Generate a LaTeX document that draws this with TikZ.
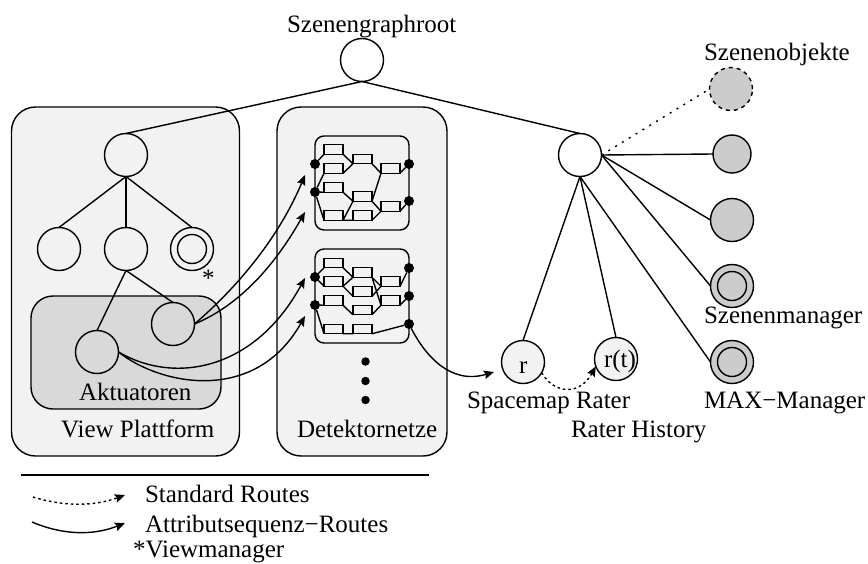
\documentclass[tikz,border=0pt]{standalone}
\usepackage{fontspec}
\setmainfont{Liberation Serif}
\usetikzlibrary{arrows.meta}
\definecolor{panelgrey}{HTML}{F2F2F2}
\definecolor{actgrey}{HTML}{D9D9D9}
\definecolor{objgrey}{HTML}{CCCCCC}
\begin{document}
\begin{tikzpicture}[x=1pt, y=-1pt, line width=1.4pt,
    every node/.style = {inner sep=0pt, outer sep=0pt, font=\fontsize{25}{28}\selectfont},
    lbl/.style = {anchor=base west},
    panel/.style = {draw, fill=panelgrey, rounded corners=24pt},
    actpanel/.style = {draw, fill=actgrey, rounded corners=22pt},
    netbox/.style = {draw, rounded corners=9pt, minimum width=94pt, minimum height=94pt},
    cell/.style = {draw, line width=1.1pt, fill=panelgrey, minimum width=19pt, minimum height=9.5pt},
    dot/.style = {circle, fill=black, minimum size=10pt},
    knot/.style = {circle, draw, minimum size=43pt},
    inner/.style = {circle, draw, minimum size=29pt},
    obj/.style = {knot, fill=objgrey},
    rater/.style = {knot, fill=panelgrey},
    route/.style = {-{Stealth[length=10pt,width=8.5pt,inset=1.5pt]}},
    stdroute/.style = {route, dash pattern=on 2.5pt off 3pt}]
  \useasboundingbox (0,0) rectangle (868,563);

  \node[panel, minimum width=228pt, minimum height=349pt] (viewpanel) at (125.5,281.5) {};
  \node[panel, minimum width=170pt, minimum height=349pt] (detpanel) at (362,281.5) {};
  \node[actpanel, minimum width=190pt, minimum height=113pt] (actpanel) at (126,352.5) {};

  \node[knot] (root) at (362,60) {};
  \node[knot] (view) at (126,155) {};
  \node[knot] (viewa) at (59,249) {};
  \node[knot] (viewb) at (126,249) {};
  \node[knot] (viewc) at (192,249) {};
  \node[inner] (viewci) at (192,249) {};
  \node[knot] (acta) at (173,324) {};
  \node[knot] (actb) at (97,352) {};
  \node[knot] (hub) at (580,155) {};
  \node[rater] (spacerater) at (523,362) {};
  \node[rater] (raterhist) at (616,359) {};
  \node[obj, draw=none] (obja) at (731,89) {};
  \draw[dash pattern=on 4pt off 4pt] (731,89) circle (21.5pt);
  \node[obj, minimum size=38pt] (objb) at (732,154) {};
  \node[obj] (objc) at (732,220) {};
  \node[obj] (objd) at (732,286) {};
  \node[inner] (objdi) at (732,286) {};
  \node[obj] (obje) at (732,362) {};
  \node[inner] (objei) at (732,362) {};

  \node[netbox] (neta) at (362,183) {};
  \node[cell] (aa) at (333.5,149.5) {};
  \node[cell] (ab) at (333.5,168.5) {};
  \node[cell] (ac) at (333.5,187.5) {};
  \node[cell] (ad) at (333.5,215.5) {};
  \node[cell] (ae) at (362.5,159) {};
  \node[cell] (af) at (362.5,196.5) {};
  \node[cell] (ag) at (362.5,215.5) {};
  \node[cell] (ah) at (390.5,168.5) {};
  \node[cell] (ai) at (390.5,206.5) {};
  \node[dot] (al1) at (315,164) {};
  \node[dot] (al2) at (315,192) {};
  \node[dot] (ar1) at (409,164) {};
  \node[dot] (ar2) at (409,201) {};

  \node[netbox] (netb) at (362,296) {};
  \node[cell] (ba) at (333.5,263) {};
  \node[cell] (bb) at (333.5,281.5) {};
  \node[cell] (bc) at (333.5,300.5) {};
  \node[cell] (bd) at (333.5,329) {};
  \node[cell] (be) at (362.5,272.5) {};
  \node[cell] (bf) at (362.5,291.5) {};
  \node[cell] (bg) at (362.5,310) {};
  \node[cell] (bh) at (362.5,329) {};
  \node[cell] (bi) at (390.5,281.5) {};
  \node[cell] (bj) at (390.5,300.5) {};
  \node[dot] (bl1) at (315,277) {};
  \node[dot] (bl2) at (315,305) {};
  \node[dot] (br1) at (409,268) {};
  \node[dot] (br2) at (409,296) {};
  \node[dot] (br3) at (409,324) {};

  \node[dot, minimum size=8.5pt] (morea) at (365.5,361.5) {};
  \node[dot, minimum size=8.5pt] (moreb) at (365.5,381) {};
  \node[dot, minimum size=8.5pt] (morec) at (365.5,400) {};

  \draw (root.south) -- (view.north);
  \draw (root.south) -- (hub.north);
  \draw (view.south) -- (viewa.north);
  \draw (view.south) -- (viewb.north);
  \draw (view.south) -- (viewc.north);
  \draw (viewb.south) -- (acta.north);
  \draw (viewb.south) -- (actb.north);
  \draw (hub.south) -- (spacerater.north);
  \draw (hub.south) -- (raterhist.north);
  \draw (hub.south) -- (obje.west);
  \draw (hub.east) -- (objb.west);
  \draw (hub.east) -- (objc.west);
  \draw (hub.east) -- (objd.west);
  \draw[dash pattern=on 2pt off 6pt] (hub.east) -- (obja.west);

  \draw (al1) -- (aa.south west) (aa.south east) -- (ae.south west)
    (ab.south east) -- (ae.south west) (ae.south east) -- (ah.south west)
    (ah.south east) -- (ar1);
  \draw (al2) -- (ab.south west) (al2) -- (ac.south west) (al2) -- (ad.south west)
    (ac.south east) -- (af.south west) (ad.south east) -- (af.south west)
    (ad.south east) -- (ag.south west) (af.south east) -- (ah.south west)
    (af.south east) -- (ai.south west) (ag.south east) -- (ai.south west)
    (ai.south east) -- (ar2);

  \draw (bl1) -- (ba.south west) (bl1) -- (bb.south west) (ba.south east) -- (be.south west)
    (bb.south east) -- (be.south west) (bb.south east) -- (bf.south west)
    (be.south east) -- (bi.south west) (be.south east) -- (bj.south west)
    (bf.south east) -- (bi.south west) (bi.south east) -- (br1) (bj.south east) -- (br2);
  \draw (bl2) -- (bc.south west) (bl2) -- (bd.south west) (bc.south east) -- (bg.south west)
    (bg.south east) -- (bj.south west) (bd.south east) -- (bh.south west)
    (bh.south east) -- (br3);

  \coordinate (tipa) at (305,175);
  \coordinate (tipb) at (305,212);
  \coordinate (tipc) at (305,278);
  \coordinate (tipd) at (305,316);
  \coordinate (tipe) at (494,372);
  \draw[route] (acta.east) .. controls (240,285) and (280,235) .. (tipa);
  \draw[route] (acta.east) .. controls (240,305) and (275,265) .. (tipb);
  \draw[route] (actb.east) .. controls (175,385) and (255,370) .. (tipc);
  \draw[route] (actb.east) .. controls (160,385) and (255,405) .. (tipd);
  \draw[route] (br3) .. controls (425,355) and (450,385) .. (tipe);
  \draw[stdroute] (spacerater.-30) .. controls (555,395) and (580,395) .. (raterhist.200);

  \node[lbl] (rootlabel) at (287,32) {Szenengraphroot};
  \node[lbl] (objlabel) at (704,60) {Szenenobjekte};
  \node[lbl] (mgrlabel) at (704,323) {Szenenmanager};
  \node[lbl] (maxlabel) at (704,408) {MAX−Manager};
  \node[lbl] (raterlabel) at (467,408) {Spacemap Rater};
  \node[lbl] (histlabel) at (571,437) {Rater History};
  \node[lbl] (rtext) at (519,373) {r};
  \node[lbl] (rttext) at (604,367) {r(t)};
  \node[lbl] (actlabel) at (79,400) {Aktuatoren};
  \node[lbl] (viewlabel) at (61,437) {View Plattform};
  \node[lbl] (detlabel) at (297,437) {Detektornetze};
  \node[lbl] (starlabel) at (202,286) {*};

  \coordinate (rulea) at (21,475);
  \coordinate (ruleb) at (429,475);
  \draw (rulea) -- (ruleb);
  \coordinate (stda) at (33,497);
  \coordinate (stdb) at (125,495);
  \coordinate (attra) at (32,522);
  \coordinate (attrb) at (125,523);
  \draw[stdroute] (stda) .. controls (65,507) and (95,506) .. (stdb);
  \draw[route] (attra) .. controls (65,536) and (95,535) .. (attrb);
  \node[lbl] (stdlabel) at (145,502) {Standard Routes};
  \node[lbl] (attrlabel) at (145,532) {Attributsequenz−Routes};
  \node[lbl] (mgrnote) at (133,557) {*Viewmanager};
\end{tikzpicture}
\end{document}
